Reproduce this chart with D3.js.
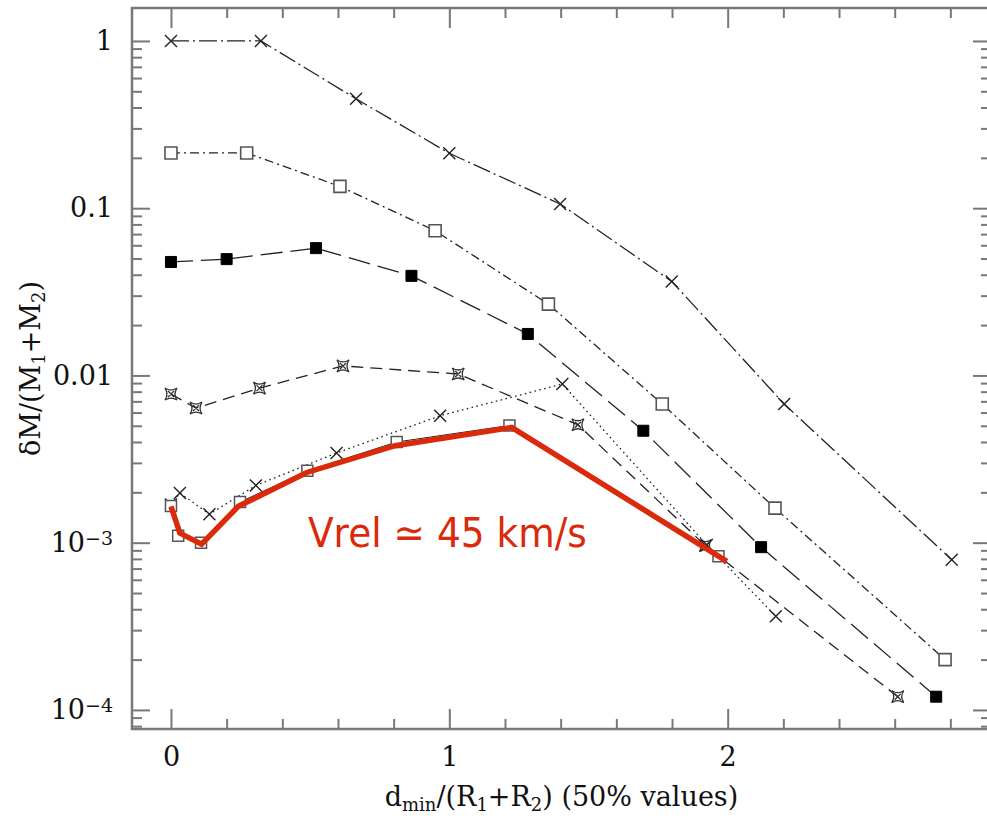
<!DOCTYPE html>
<html><head><meta charset="utf-8">
<script src="https://cdn.jsdelivr.net/npm/d3@7"></script>
<style>body{margin:0;background:#fff} svg{display:block}</style>
</head><body>
<svg id="c" width="987" height="822"></svg>
<script>
// ---- data ----
const crossesTop_x = [0, 0.323, 0.665, 1.0, 1.398, 1.799, 2.203, 2.805];
const crossesTop_y = [1.0, 1.0, 0.451, 0.213, 0.106, 0.0365, 0.00675, 7.9e-4];

const openSquaresTop_x = [0, 0.272, 0.607, 0.949, 1.356, 1.765, 2.170, 2.781];
const openSquaresTop_y = [0.214, 0.214, 0.135, 0.0733, 0.0267, 0.00675, 0.00161, 2.0e-4];

const filledSquares_x = [0, 0.2, 0.521, 0.864, 1.282, 1.697, 2.12, 2.749];
const filledSquares_y = [0.0477, 0.0496, 0.0577, 0.0394, 0.0177, 0.00467, 9.4e-4, 1.2e-4];

const stars_x = [0, 0.09, 0.318, 0.618, 1.032, 1.462, 1.92, 2.611];
const stars_y = [0.00774, 0.00638, 0.0084, 0.0114, 0.0102, 0.00507, 9.6e-4, 1.2e-4];

const crossesDotted_x = [0, 0.032, 0.138, 0.305, 0.595, 0.967, 1.406, 1.925, 2.173];
const crossesDotted_y = [0.00169, 0.00198, 0.00148, 0.0022, 0.00344, 0.00574, 0.00889, 9.7e-4, 3.63e-4];

const openSquaresLow_x = [0, 0.026, 0.108, 0.248, 0.49, 0.811, 1.216, 1.967];
const openSquaresLow_y = [0.00166, 0.0011, 0.001, 0.00175, 0.00269, 0.004, 0.00502, 8.3e-4];

const redLine_x = [0, 0.032, 0.11, 0.242, 0.488, 0.805, 1.224, 1.997];
const redLine_y = [0.00165, 0.00114, 9.8e-4, 0.00165, 0.00263, 0.0038, 0.00489, 7.73e-4];

const xTickValues = [0, 1, 2];
const xTickLabels = ["0", "1", "2"];
const xMinorTicks = [0.2, 0.4, 0.6, 0.8, 1.2, 1.4, 1.6, 1.8, 2.2, 2.4, 2.6, 2.8];
const yTickValues = [1, 0.1, 0.01, 1e-3, 1e-4];
const yTickLabels = [["1", ""], ["0.1", ""], ["0.01", ""], ["10", "\u22123"], ["10", "\u22124"]];
const yMinorMultipliers = [2, 3, 4, 5, 6, 7, 8, 9];

const annotationText = "Vrel \u2243 45 km/s";
const annotationAt = [0.492, 9.46e-4];

// ---- layout ----
const L = 132, R = 991, T = 8, B = 729;
const svg = d3.select("#c");
const x = d3.scaleLinear().domain([-0.14, 2.946]).range([L, R]);
const y = d3.scaleLog().domain([Math.pow(10, -4.114), Math.pow(10, 0.197)]).range([B, T]);

const axisColor = "#787878";
const serif = "'DejaVu Serif', serif";

const yMinor = [];
[1e-5, 1e-4, 1e-3, 1e-2, 1e-1, 1].forEach(d => yMinorMultipliers.forEach(k => {
  const v = d * k; if (v > y.domain()[0] && v < y.domain()[1]) yMinor.push(v);
}));

function clean(g) {
  g.select(".domain").remove();
  g.selectAll("line").attr("stroke", axisColor).attr("stroke-width", 2);
  g.selectAll("text").attr("font-family", serif).attr("font-size", 27).attr("fill", "#111");
}

// bottom
svg.append("g").attr("transform", `translate(0,${B})`)
  .call(d3.axisBottom(x).tickValues(xTickValues).tickSize(-20).tickPadding(18)
    .tickFormat((d, i) => xTickLabels[i])).call(clean);
svg.append("g").attr("transform", `translate(0,${B})`)
  .call(d3.axisBottom(x).tickValues(xMinorTicks).tickSize(-10).tickFormat("")).call(clean);
// top
svg.append("g").attr("transform", `translate(0,${T})`)
  .call(d3.axisTop(x).tickValues(xTickValues).tickSize(-20).tickFormat("")).call(clean);
svg.append("g").attr("transform", `translate(0,${T})`)
  .call(d3.axisTop(x).tickValues(xMinorTicks).tickSize(-10).tickFormat("")).call(clean);
// left
const yl = svg.append("g").attr("transform", `translate(${L},0)`)
  .call(d3.axisLeft(y).tickValues(yTickValues).tickSize(-18).tickPadding(19).tickFormat(() => ""))
  .call(clean);
yl.selectAll(".tick text").each(function (d, i) {
  const t = d3.select(this);
  const lab = yTickLabels[i];
  t.text(null);
  t.append("tspan").text(lab[0]);
  if (lab[1]) t.append("tspan").attr("font-size", 19).attr("dy", -7).text(lab[1]);
});
svg.append("g").attr("transform", `translate(${L},0)`)
  .call(d3.axisLeft(y).tickValues(yMinor).tickSize(-10).tickFormat(() => "")).call(clean);
// right
svg.append("g").attr("transform", `translate(${R},0)`)
  .call(d3.axisRight(y).tickValues(yTickValues).tickSize(-18).tickFormat(() => "")).call(clean);
svg.append("g").attr("transform", `translate(${R},0)`)
  .call(d3.axisRight(y).tickValues(yMinor).tickSize(-10).tickFormat(() => "")).call(clean);

// frame
svg.append("rect").attr("x", L).attr("y", T).attr("width", R - L).attr("height", B - T)
  .attr("fill", "none").attr("stroke", axisColor).attr("stroke-width", 2.5);

// axis titles
const xt = svg.append("text").attr("x", (L + R) / 2).attr("y", 806).attr("text-anchor", "middle")
  .attr("font-family", serif).attr("font-size", 27).attr("fill", "#111");
xt.append("tspan").text("d");
xt.append("tspan").attr("font-size", 18).attr("dy", 5).text("min");
xt.append("tspan").attr("dy", -5).text("/(R");
xt.append("tspan").attr("font-size", 18).attr("dy", 5).text("1");
xt.append("tspan").attr("dy", -5).text("+R");
xt.append("tspan").attr("font-size", 18).attr("dy", 5).text("2");
xt.append("tspan").attr("dy", -5).text(") (50% values)");

const yt = svg.append("text").attr("transform", `translate(40,${(T + B) / 2}) rotate(-90)`)
  .attr("text-anchor", "middle").attr("font-family", serif).attr("font-size", 27).attr("fill", "#111");
yt.append("tspan").text("\u03b4M/(M");
yt.append("tspan").attr("font-size", 18).attr("dy", 5).text("1");
yt.append("tspan").attr("dy", -5).text("+M");
yt.append("tspan").attr("font-size", 18).attr("dy", 5).text("2");
yt.append("tspan").attr("dy", -5).text(")");

// ---- series ----
const lineGen = d3.line().x(d => x(d[0])).y(d => y(d[1]));
const zip = (xs, ys) => xs.map((v, i) => [v, ys[i]]);
const ink = "#222";

function series(xs, ys, dash, marker, opts = {}) {
  const pts = zip(xs, ys);
  svg.append("path").datum(pts).attr("d", lineGen).attr("fill", "none")
    .attr("stroke", ink).attr("stroke-width", opts.lw || 1.3)
    .attr("stroke-dasharray", dash);
  const g = svg.append("g");
  g.selectAll("path").data(pts).join("path")
    .attr("transform", d => `translate(${x(d[0])},${y(d[1])})`)
    .attr("d", marker.d).attr("fill", marker.fill).attr("stroke", marker.stroke)
    .attr("stroke-width", marker.sw);
}

const crossM = { d: "M-6,-6L6,6M-6,6L6,-6", fill: "none", stroke: "#222", sw: 1.4 };
const openSqM = { d: "M-6,-6H6V6H-6Z", fill: "#fff", stroke: "#555", sw: 1.6 };
const openSqSmallM = { d: "M-5.5,-5.5H5.5V5.5H-5.5Z", fill: "#fff", stroke: "#555", sw: 1.5 };
const filledSqM = { d: "M-5.5,-5.5H5.5V5.5H-5.5Z", fill: "#000", stroke: "#000", sw: 1 };
const starM = { d: "M-6,-6Q0,-2 6,-6Q2,0 6,6Q0,2 -6,6Q-2,0 -6,-6ZM-3,-3L3,3M-3,3L3,-3", fill: "none", stroke: "#333", sw: 1.3 };

series(crossesTop_x, crossesTop_y, "18,4,2,4", crossM);
series(openSquaresTop_x, openSquaresTop_y, "9,4,2,4", openSqM);
series(filledSquares_x, filledSquares_y, "22,8", filledSqM);
series(stars_x, stars_y, "12,7", starM);
series(crossesDotted_x, crossesDotted_y, "1.6,3.4", crossM);
series(openSquaresLow_x, openSquaresLow_y, null, openSqSmallM, { lw: 1 });

// red thick line
const red = "#db2a0b";
svg.append("path").datum(zip(redLine_x, redLine_y)).attr("d", lineGen)
  .attr("fill", "none").attr("stroke", red).attr("stroke-width", 5.5)
  .attr("stroke-linejoin", "miter");

svg.append("text").attr("x", x(annotationAt[0])).attr("y", y(annotationAt[1]))
  .attr("font-family", "'DejaVu Sans', sans-serif").attr("font-size", 41)
  .attr("fill", red).attr("textLength", 279).attr("lengthAdjust", "spacingAndGlyphs")
  .text(annotationText);
</script>
</body></html>
